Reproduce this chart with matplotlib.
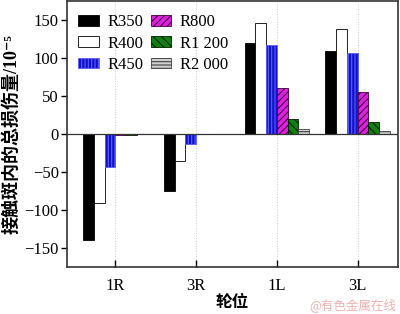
import matplotlib
matplotlib.use("Agg")
import matplotlib.pyplot as plt
import numpy as np

plt.rcParams['font.family'] = ['Liberation Serif', 'Noto Sans CJK SC', 'DejaVu Sans']
plt.rcParams['hatch.linewidth'] = 0.8

categories = ['1R', '3R', '1L', '3L']
series_names = ['R350', 'R400', 'R450', 'R800', 'R1 200', 'R2 000']
values = {
    'R350':   [-139, -75, 119, 109],
    'R400':   [-91, -35, 146, 138],
    'R450':   [-43, -13, 117, 106],
    'R800':   [-1, -0.5, 60, 55],
    'R1 200': [-1, -0.5, 20, 16],
    'R2 000': [-0.5, -0.3, 6, 4.5],
}
yticks = [-150, -100, -50, 0, 50, 100, 150]

styles = {
    'R350':   dict(facecolor='black', edgecolor='black', hatch=None),
    'R400':   dict(facecolor='white', edgecolor='black', hatch=None),
    'R450':   dict(facecolor='#1010c8', edgecolor='#6060ff', hatch='|||||'),
    'R800':   dict(facecolor='#e020e0', edgecolor='#400040', hatch='/////'),
    'R1 200': dict(facecolor='#108010', edgecolor='#002000', hatch='\\\\\\\\'),
    'R2 000': dict(facecolor='#d0d0d0', edgecolor='#404040', hatch='-----'),
}

fig = plt.figure(figsize=(4.0, 3.14), dpi=100)
ax = fig.add_axes([0.1675, 0.15, 0.8275, 0.847])

x = np.arange(len(categories))
w = 0.133
n = len(series_names)
for i, name in enumerate(series_names):
    off = (i - (n - 1) / 2) * w
    st = styles[name]
    ax.bar(x + off, values[name], width=w, facecolor=st['facecolor'],
           edgecolor=st['edgecolor'], hatch=st['hatch'], linewidth=0.6,
           label=name, zorder=3)

ax.axhline(0, color='#333333', linewidth=0.9, zorder=4)
ax.set_xlim(-0.6, 3.5)
ax.set_ylim(-175, 175)
ax.set_xticks(x)
ax.set_xticklabels(categories)
ax.set_yticks(yticks)
ax.set_yticklabels([f'{v}'.replace('-', '\u2212') for v in yticks])
ax.tick_params(axis='y', direction='out', length=4, width=1, labelsize=12, pad=2)
ax.tick_params(axis='x', direction='in', length=5, width=1, labelsize=12, pad=8)
for xi in x:
    ax.axvline(xi, color='#cccccc', linestyle=':', linewidth=0.7, zorder=1)
for s in ax.spines.values():
    s.set_linewidth(1.2)
    s.set_color('#333333')

ax.set_ylabel('接触斑内的总损伤量/10\u207b\u2075', fontsize=13, labelpad=3,
              fontweight='bold')
ax.set_xlabel('轮位', fontsize=12, labelpad=1, fontweight='bold')

leg = ax.legend(ncol=2, loc='upper left', frameon=False, fontsize=12,
                handlelength=1.25, handleheight=0.6, columnspacing=0.45,
                labelspacing=0.32, handletextpad=0.5, borderaxespad=0.0,
                bbox_to_anchor=(0.013, 0.975))

fig.text(0.99, 0.005, '@有色金属在线', color='#f0b0b0', fontsize=9,
         ha='right', va='bottom', family=['Noto Sans CJK SC'])

fig.savefig('out.png', dpi=100)
